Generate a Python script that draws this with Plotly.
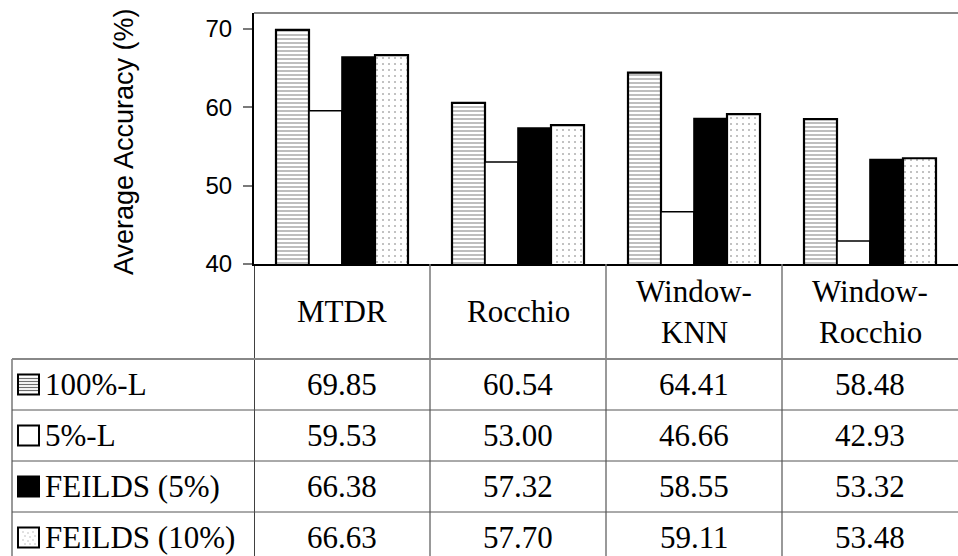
import plotly.graph_objects as go

# ---------------- data ----------------
categories = ["MTDR", "Rocchio", "Window-KNN", "Window-Rocchio"]
category_labels = [["MTDR"], ["Rocchio"], ["Window-", "KNN"], ["Window-", "Rocchio"]]
series_names = ["100%-L", "5%-L", "FEILDS (5%)", "FEILDS (10%)"]
full_labeled = [69.85, 60.54, 64.41, 58.48]
five_labeled = [59.53, 53.00, 46.66, 42.93]
feilds_5 = [66.38, 57.32, 58.55, 53.32]
feilds_10 = [66.63, 57.70, 59.11, 53.48]
series_values = [full_labeled, five_labeled, feilds_5, feilds_10]
y_ticks = [40, 50, 60, 70]
y_title = "Average Accuracy (%)"

# ---------------- geometry helpers (pixels -> paper) ----------------
W, H = 958, 556
L, R, T, B = 254, 0, 13, 292
PW, PH = W - L - R, H - T - B
plot_bottom = H - B


def px2x(px):
    return (px - L) / PW


def py2y(py):
    return (plot_bottom - py) / PH


serif = "Liberation Serif, Times New Roman, serif"
sans = "Liberation Sans, Arial, sans-serif"
TFS = 31  # table font size

styles = [
    dict(color="white", lw=2.2, pattern=dict(shape="-", fgcolor="#6e6e6e", bgcolor="white", size=4, solidity=0.45)),
    dict(color="white", lw=1.6, pattern=None),
    dict(color="black", lw=1.6, pattern=None),
    dict(color="white", lw=2.2, pattern=dict(shape=".", fgcolor="#666666", bgcolor="white", size=6, solidity=0.1)),
]

fig = go.Figure()
for name, vals, st in zip(series_names, series_values, styles):
    marker = dict(color=st["color"], line=dict(color="black", width=st["lw"]))
    if st["pattern"]:
        marker["pattern"] = st["pattern"]
    fig.add_bar(x=categories, y=vals, name=name, marker=marker)

shapes = []
annotations = []

# top frame line
shapes.append(dict(type="line", xref="paper", yref="paper", x0=0, x1=1, y0=1, y1=1,
                   line=dict(color="#8a8a8a", width=2)))

# table geometry (pixels)
cat_row_bottom = 359
row_h = 51
row_lines = [cat_row_bottom + i * row_h for i in range(4)]
row_centers = [cat_row_bottom + row_h * (i + 0.5) for i in range(4)]
left_edge = 12

# vertical table lines
shapes.append(dict(type="line", xref="x", yref="paper", x0=-0.5, x1=-0.5, y0=0, y1=py2y(H + 5),
                   line=dict(color="black", width=1.5)))
for xv in [0.5, 1.5, 2.5]:
    shapes.append(dict(type="line", xref="x", yref="paper", x0=xv, x1=xv, y0=0, y1=py2y(H + 5),
                       line=dict(color="#777777", width=1.5)))
shapes.append(dict(type="line", xref="paper", yref="paper", x0=px2x(left_edge), x1=px2x(left_edge),
                   y0=py2y(cat_row_bottom), y1=py2y(H + 5), line=dict(color="#777777", width=1.5)))
# horizontal table lines
for i, yl in enumerate(row_lines):
    shapes.append(dict(type="line", xref="paper", yref="paper", x0=px2x(left_edge), x1=1,
                       y0=py2y(yl), y1=py2y(yl),
                       line=dict(color="#888888" if i == 0 else "#555555", width=2 if i == 0 else 1)))

# category labels
cat_center = (plot_bottom + cat_row_bottom) / 2
for cat, lines in zip(categories, category_labels):
    n = len(lines)
    for k, ln in enumerate(lines):
        annotations.append(dict(x=cat, xref="x", y=py2y(cat_center), yref="paper", text=ln,
                                showarrow=False, xanchor="center", yanchor="middle",
                                yshift=-(k - (n - 1) / 2) * 41,
                                font=dict(family=serif, size=TFS, color="black")))

# cell values
for i, vals in enumerate(series_values):
    for cat, v in zip(categories, vals):
        annotations.append(dict(x=cat, xref="x", y=py2y(row_centers[i]), yref="paper",
                                text=f"{v:.2f}", showarrow=False, xanchor="center", yanchor="middle",
                                font=dict(family=serif, size=TFS, color="black")))

# legend labels + swatches
sw0, sw1 = 18, 39
for i, name in enumerate(series_names):
    yc = row_centers[i]
    annotations.append(dict(x=px2x(43), xref="paper", y=py2y(yc), yref="paper", text=name,
                            showarrow=False, xanchor="left", yanchor="middle",
                            font=dict(family=serif, size=TFS, color="black")))
    st = styles[i]
    shapes.append(dict(type="rect", xref="paper", yref="paper", x0=px2x(sw0), x1=px2x(sw1),
                       y0=py2y(yc - 10), y1=py2y(yc + 10), fillcolor=st["color"],
                       line=dict(color="black", width=2)))
    if i == 0:
        for dy in [-6, -3, 0, 3, 6]:
            shapes.append(dict(type="line", xref="paper", yref="paper", x0=px2x(sw0 + 1), x1=px2x(sw1 - 1),
                               y0=py2y(yc + dy), y1=py2y(yc + dy), line=dict(color="#6e6e6e", width=1.2)))
    if i == 3:
        for dx, dy in [(-6, -6), (-1, -5), (4, -6), (-4, -2), (1, -1), (6, -2),
                       (-6, 2), (-1, 3), (4, 2), (-4, 6), (1, 6), (6, 6)]:
            shapes.append(dict(type="rect", xref="paper", yref="paper",
                               x0=px2x(28.5 + dx), x1=px2x(29.5 + dx), y0=py2y(yc + dy), y1=py2y(yc + dy + 1),
                               fillcolor="#888888", line=dict(width=0)))

# y-axis title
annotations.append(dict(x=px2x(124), xref="paper", y=py2y(142), yref="paper", text=y_title,
                        textangle=-90, showarrow=False, xanchor="center", yanchor="middle",
                        font=dict(family=sans, size=27, color="black")))

fig.update_layout(
    width=W, height=H,
    margin=dict(l=L, r=R, t=T, b=B, pad=0),
    paper_bgcolor="white", plot_bgcolor="white",
    barmode="group", bargap=0.25, bargroupgap=0,
    showlegend=False,
    shapes=shapes, annotations=annotations,
    xaxis=dict(range=[-0.5, 3.5], showticklabels=False, ticks="", showgrid=False, zeroline=False,
               showline=True, linecolor="black", linewidth=2),
    yaxis=dict(range=[40, 72], tickvals=y_ticks, ticks="outside", ticklen=9, tickwidth=2,
               tickcolor="#7a7a7a", showgrid=False, zeroline=False, showline=True,
               linecolor="black", linewidth=2, ticklabelstandoff=6,
               tickfont=dict(family=sans, size=24, color="black")),
)

fig.write_html("out.html", config={"displayModeBar": False},
               post_script="document.body.style.margin='0';document.body.style.overflow='hidden';")
